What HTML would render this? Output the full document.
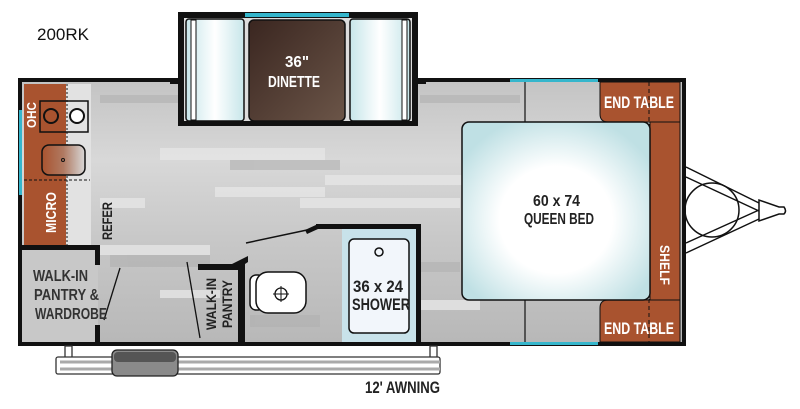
<!DOCTYPE html>
<html><head><meta charset="utf-8"><style>
html,body{margin:0;padding:0;background:#fff;width:800px;height:409px;overflow:hidden}
text{font-family:"Liberation Sans",sans-serif;font-weight:bold}
</style></head><body>
<svg width="800" height="409" viewBox="0 0 800 409" xmlns="http://www.w3.org/2000/svg">
<defs>
<linearGradient id="fl" x1="0" y1="0" x2="0" y2="1">
<stop offset="0" stop-color="#c4c4c4"/><stop offset="0.3" stop-color="#d8d8d8"/><stop offset="0.6" stop-color="#c8c8c8"/><stop offset="1" stop-color="#b8b8b8"/></linearGradient>
<radialGradient id="bed" cx="0.5" cy="0.55" r="0.6"><stop offset="0.5" stop-color="#fff"/><stop offset="1" stop-color="#bfe0e4"/></radialGradient>
<linearGradient id="seat" x1="0" y1="0" x2="1" y2="0"><stop offset="0" stop-color="#c7e6ea"/><stop offset="0.5" stop-color="#fff"/><stop offset="1" stop-color="#c7e6ea"/></linearGradient>
<linearGradient id="tbl" x1="0" y1="0" x2="1" y2="1"><stop offset="0" stop-color="#3a2620"/><stop offset="1" stop-color="#6b5548"/></linearGradient>
<linearGradient id="sink" x1="0" y1="0" x2="1" y2="0"><stop offset="0" stop-color="#a9532f"/><stop offset="0.5" stop-color="#b07a62"/><stop offset="1" stop-color="#d8d8d8"/></linearGradient>
</defs>
<text x="37" y="40" style="font-weight:normal" font-size="17" fill="#111">200RK</text>
<!-- floor -->
<rect x="22" y="82" width="660" height="260" fill="url(#fl)"/>
<g fill="#e6e6e6" opacity="0.8">
<rect x="160" y="148" width="165" height="12"/><rect x="215" y="187" width="110" height="10"/><rect x="325" y="175" width="140" height="10"/>
<rect x="100" y="198" width="45" height="10"/><rect x="100" y="245" width="110" height="10"/><rect x="300" y="198" width="160" height="10"/>
<rect x="160" y="290" width="60" height="8"/><rect x="420" y="300" width="60" height="10"/></g>
<g fill="#b0b0b0" opacity="0.6">
<rect x="100" y="95" width="80" height="8"/><rect x="420" y="95" width="100" height="8"/><rect x="230" y="160" width="110" height="10"/>
<rect x="110" y="255" width="100" height="12"/><rect x="250" y="315" width="70" height="12"/><rect x="420" y="262" width="40" height="10"/></g>
<!-- main walls -->
<path d="M18 78 H178 V82 H22 V342 H682 V82 H418 V78 H686 V346 H18 Z" fill="#111"/>
<rect x="170" y="78" width="12" height="6" fill="#111"/><rect x="414" y="78" width="12" height="6" fill="#111"/>
<rect x="510" y="79" width="88" height="3" fill="#35b6cc"/><rect x="510" y="342" width="88" height="3" fill="#35b6cc"/>
<rect x="19" y="110" width="3" height="85" fill="#35b6cc"/>
<!-- slide out -->
<rect x="178" y="12" width="240" height="114" fill="#111"/>
<rect x="184" y="18" width="228" height="103" fill="#ddd"/>
<rect x="245" y="13" width="104" height="4" fill="#35b6cc"/>
<rect x="186" y="19" width="58" height="102" rx="3" fill="url(#seat)" stroke="#111" stroke-width="1.5"/>
<rect x="191" y="20" width="5" height="100" fill="#fff" stroke="#111" stroke-width="1"/>
<rect x="350" y="19" width="60" height="102" rx="3" fill="url(#seat)" stroke="#111" stroke-width="1.5"/>
<rect x="402" y="20" width="5" height="100" fill="#fff" stroke="#111" stroke-width="1"/>
<rect x="249" y="20" width="96" height="101" rx="5" fill="url(#tbl)" stroke="#111" stroke-width="1.5"/>
<text x="285" y="67" font-size="16" fill="#fff" textLength="24" lengthAdjust="spacingAndGlyphs">36"</text>
<text x="268" y="87" font-size="16" fill="#fff" textLength="52" lengthAdjust="spacingAndGlyphs">DINETTE</text>
<!-- kitchen -->
<rect x="24" y="84" width="42" height="164" fill="#a9532f"/>
<rect x="66" y="84" width="25" height="164" fill="#e2e2e2"/>
<line x1="67" y1="84" x2="67" y2="248" stroke="#111" stroke-dasharray="2 2"/>
<line x1="24" y1="180" x2="90" y2="180" stroke="#111" stroke-dasharray="3 2"/>
<rect x="40" y="101" width="48" height="31" fill="none" stroke="#111" stroke-width="1.5"/>
<circle cx="51" cy="116" r="7" fill="none" stroke="#111" stroke-width="2"/>
<circle cx="77" cy="116" r="7" fill="#fff" stroke="#111" stroke-width="2"/>
<rect x="42" y="145" width="43" height="30" rx="7" fill="url(#sink)" stroke="#111" stroke-width="1.5"/>
<circle cx="63" cy="160" r="1.5" fill="none" stroke="#111"/>
<text transform="translate(36,128) rotate(-90)" font-size="13" fill="#fff" textLength="26" lengthAdjust="spacingAndGlyphs">OHC</text>
<text transform="translate(56,233) rotate(-90)" font-size="15" fill="#fff" textLength="41" lengthAdjust="spacingAndGlyphs">MICRO</text>
<text transform="translate(112,240) rotate(-90)" font-size="14" fill="#222" textLength="38" lengthAdjust="spacingAndGlyphs">REFER</text>
<!-- pantry / wardrobe -->
<rect x="22" y="248" width="76" height="94" fill="#c8c8c8"/>
<rect x="22" y="245" width="78" height="5" fill="#111"/>
<rect x="95" y="248" width="5" height="17" fill="#111"/><rect x="95" y="325" width="5" height="17" fill="#111"/>
<line x1="120" y1="268" x2="104" y2="320" stroke="#111" stroke-width="1.3"/>
<text x="33" y="281" font-size="16" fill="#333" textLength="55" lengthAdjust="spacingAndGlyphs">WALK-IN</text>
<text x="34" y="300" font-size="16" fill="#333" textLength="65" lengthAdjust="spacingAndGlyphs">PANTRY &amp;</text>
<text x="35" y="319" font-size="16" fill="#333" textLength="72" lengthAdjust="spacingAndGlyphs">WARDROBE</text>
<!-- bath -->
<path d="M316 224 H421 V342 H416 V229 H316 Z" fill="#111"/>
<polygon points="305,230 318,224 318,229 307,234" fill="#111"/>
<rect x="342" y="229" width="74" height="113" fill="#c8e2ea"/>
<rect x="349" y="239" width="60" height="94" rx="5" fill="#f2f6fb" stroke="#111" stroke-width="1.5"/>
<circle cx="379" cy="252" r="4" fill="none" stroke="#111" stroke-width="1.5"/>
<text x="353" y="292" font-size="17" fill="#222" textLength="50" lengthAdjust="spacingAndGlyphs">36 x 24</text>
<text x="352" y="310" font-size="17" fill="#222" textLength="58" lengthAdjust="spacingAndGlyphs">SHOWER</text>
<line x1="246" y1="243" x2="307" y2="230" stroke="#111" stroke-width="1.5"/>
<path d="M198 264 H232 L248 256 V262 L245 264 V342 H238 V270 H198 Z" fill="#111"/>
<line x1="187" y1="262" x2="200" y2="338" stroke="#111" stroke-width="1.3"/>
<text transform="translate(216,330) rotate(-90)" font-size="14" fill="#222" textLength="52" lengthAdjust="spacingAndGlyphs">WALK-IN</text>
<text transform="translate(232,328) rotate(-90)" font-size="14" fill="#222" textLength="48" lengthAdjust="spacingAndGlyphs">PANTRY</text>
<rect x="250" y="275" width="14" height="35" rx="6" fill="#fff" stroke="#111" stroke-width="1.5"/>
<rect x="256" y="272" width="50" height="41" rx="12" fill="#fff" stroke="#111" stroke-width="1.5"/>
<circle cx="281" cy="294" r="6" fill="none" stroke="#111" stroke-width="1.3"/>
<line x1="273" y1="294" x2="289" y2="294" stroke="#111"/><line x1="281" y1="286" x2="281" y2="302" stroke="#111"/>
<!-- bedroom -->
<line x1="525" y1="82" x2="525" y2="122" stroke="#111" stroke-width="1.2"/>
<line x1="525" y1="300" x2="525" y2="342" stroke="#111" stroke-width="1.2"/>
<path d="M600 82 H680 V122 H608 Q600 122 600 114 Z" fill="#a9532f" stroke="#111"/>
<path d="M600 342 H680 V300 H608 Q600 300 600 308 Z" fill="#a9532f" stroke="#111"/>
<rect x="650" y="122" width="30" height="178" fill="#a9532f" stroke="#111"/>
<line x1="649" y1="82" x2="649" y2="342" stroke="#111" stroke-dasharray="4 3"/>
<rect x="462" y="122" width="188" height="178" rx="7" fill="url(#bed)" stroke="#111" stroke-width="1.5"/>
<text x="533" y="206" font-size="16" fill="#222" textLength="47" lengthAdjust="spacingAndGlyphs">60 x 74</text>
<text x="524" y="224" font-size="16" fill="#222" textLength="70" lengthAdjust="spacingAndGlyphs">QUEEN BED</text>
<text x="604" y="108" font-size="17" fill="#fff" textLength="70" lengthAdjust="spacingAndGlyphs">END TABLE</text>
<text x="604" y="334" font-size="17" fill="#fff" textLength="70" lengthAdjust="spacingAndGlyphs">END TABLE</text>
<text transform="translate(660,245) rotate(90)" font-size="14" fill="#fff" textLength="40" lengthAdjust="spacingAndGlyphs">SHELF</text>
<!-- hitch -->
<g fill="none" stroke="#111" stroke-width="1.5">
<line x1="686" y1="167" x2="759" y2="203"/><line x1="686" y1="177" x2="759" y2="211"/>
<line x1="686" y1="253" x2="759" y2="219"/><line x1="686" y1="243" x2="759" y2="210"/>
<circle cx="712" cy="210" r="27"/>
<path d="M759 200 V221 L779 214 H784 Q787 211 784 207 H779 Z" fill="#fff"/>
</g>
<!-- awning -->
<g fill="#fff" stroke="#333" stroke-width="1.3">
<rect x="65" y="346" width="7" height="12"/><rect x="430" y="346" width="7" height="12"/>
<rect x="56" y="357" width="384" height="17" rx="2"/>
</g>
<line x1="60" y1="362" x2="440" y2="362" stroke="#aaa" stroke-width="3"/>
<line x1="60" y1="369" x2="440" y2="369" stroke="#aaa" stroke-width="3"/>
<rect x="112" y="350" width="66" height="26" rx="5" fill="#8a8a8a" stroke="#222" stroke-width="1.3"/>
<rect x="114" y="352" width="62" height="10" rx="4" fill="#555"/>
<text x="365" y="393" font-size="17" fill="#222" textLength="75" lengthAdjust="spacingAndGlyphs">12' AWNING</text>
</svg>
</body></html>
